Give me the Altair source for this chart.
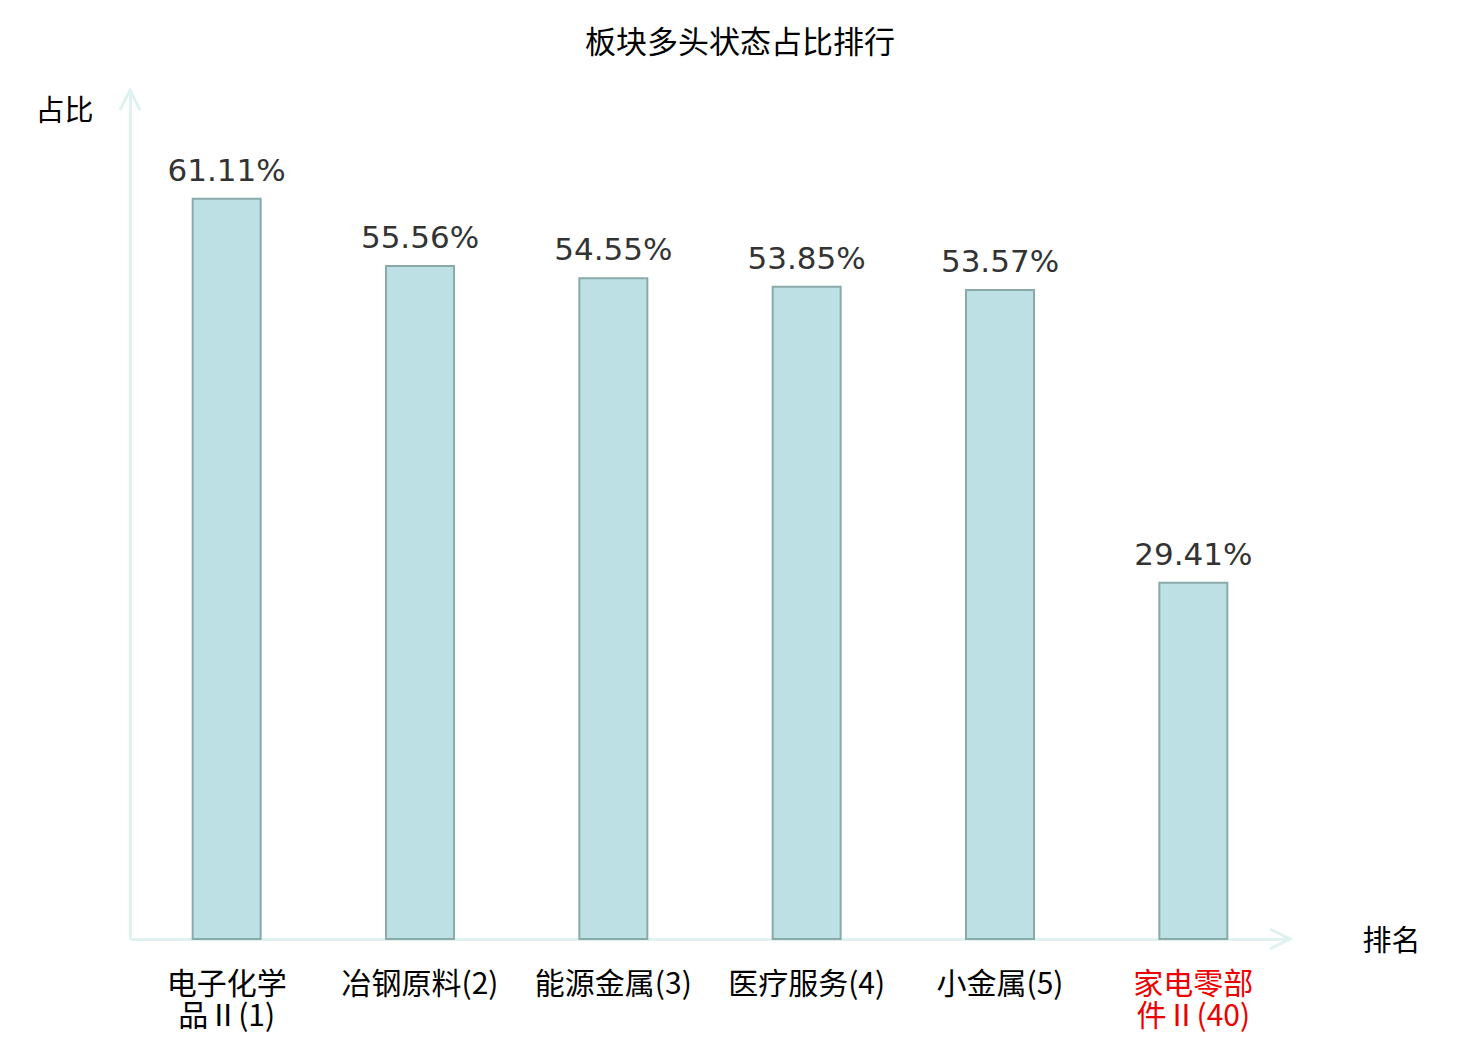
import altair as alt
import pandas as pd

categories = ["电子化学|品Ⅱ(1)", "冶钢原料(2)", "能源金属(3)", "医疗服务(4)", "小金属(5)", "家电零部|件Ⅱ(40)"]
values = [61.11, 55.56, 54.55, 53.85, 53.57, 29.41]
labels = ["61.11%", "55.56%", "54.55%", "53.85%", "53.57%", "29.41%"]
highlight = "家电零部|件Ⅱ(40)"

df = pd.DataFrame({"cat": categories, "val": values, "lab": labels})

AXIS_COLOR = "#dff2f0"
CJK = "Noto Sans CJK SC"

x_enc = alt.X(
    "cat:N", sort=categories,
    scale=alt.Scale(paddingInner=0, paddingOuter=0),
    axis=alt.Axis(
        title="排名", titleFont=CJK, titleFontSize=29, titleFontWeight="normal",
        titleColor="#000000", titleAngle=0, titleX=1261, titleY=2,
        titleAlign="center", titleBaseline="middle",
        domain=True, domainColor=AXIS_COLOR, domainWidth=3,
        ticks=False, grid=False,
        labelExpr="split(datum.value, '|')", labelFont=CJK, labelFontSize=30,
        labelAngle=0, labelLineHeight=32, labelPadding=30, labelBaseline="top",
        labelColor=alt.condition(f"datum.value == '{highlight}'", alt.value("#ee0000"), alt.value("#000000")),
    ),
)
y_enc = alt.Y(
    "val:Q", scale=alt.Scale(domain=[0, 70], nice=False),
    axis=alt.Axis(
        title="占比", titleFont=CJK, titleFontSize=29, titleFontWeight="normal",
        titleColor="#000000", titleAngle=0, titleX=-66, titleY=20,
        titleAlign="center", titleBaseline="middle",
        domain=True, domainColor=AXIS_COLOR, domainWidth=3,
        ticks=False, labels=False, grid=False,
    ),
)

bars = alt.Chart(df).mark_bar(
    size=68, color="#bce0e3", stroke="#8aaaa9", strokeWidth=2
).encode(x=x_enc, y=y_enc)

text = alt.Chart(df).mark_text(
    font="DejaVu Sans", fontSize=31, color="#333333", baseline="alphabetic", dy=-18
).encode(x=alt.X("cat:N", sort=categories), y="val:Q", text="lab:N")

yarrow = alt.Chart(pd.DataFrame({"a": [0]})).mark_point(
    shape="M-1,2L0,0L1,2", size=400, filled=False, stroke=AXIS_COLOR, strokeWidth=3, opacity=1
).encode(x=alt.value(0), y=alt.value(-1))

xarrow = alt.Chart(pd.DataFrame({"a": [0]})).mark_point(
    shape="M-2,-1L0,0L-2,1", size=400, filled=False, stroke=AXIS_COLOR, strokeWidth=3, opacity=1
).encode(x=alt.value(1160), y=alt.value(848))

chart = alt.layer(bars, text, yarrow, xarrow).properties(
    width=1160, height=848,
    title=alt.TitleParams("板块多头状态占比排行", font=CJK, fontSize=31, fontWeight="normal",
                          color="#000000", anchor="middle", dx=30, offset=24),
    autosize=alt.AutoSizeParams(type="none"),
    padding={"left": 122, "top": 83, "right": 182, "bottom": 93},
    background="white",
).configure_view(stroke=None, strokeWidth=0)

chart.save("out.html", embed_options={"renderer": "svg", "actions": False})
